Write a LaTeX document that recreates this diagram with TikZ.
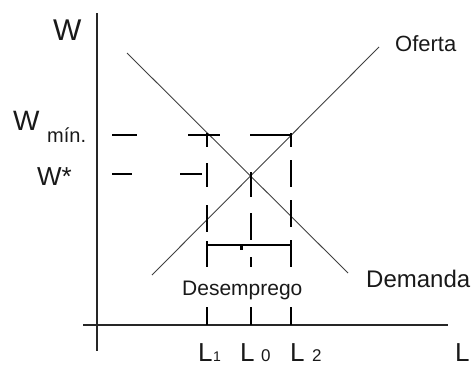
\documentclass[tikz,border=0pt]{standalone}
\usepackage{fontspec}
\setmainfont{Liberation Sans}
\tikzset{
  axisline/.style={draw=black!85, line width=1.6pt},
  curve/.style={draw=black!75, line width=0.9pt},
  dashpiece/.style={draw=black, line width=1.3pt},
  lbl/.style={anchor=base west, inner sep=0pt, text=black!90},
}
\newcommand{\fs}[1]{\fontsize{#1}{#1}\selectfont}
\begin{document}
\begin{tikzpicture}[x=1pt,y=-1pt]
\useasboundingbox (0,0) rectangle (476,367);
% axes
\coordinate (ytop) at (97,13);
\coordinate (ybot) at (97,351);
\coordinate (xl) at (83,325);
\coordinate (xr) at (448,325);
\draw[axisline] (ytop) -- (ybot);
\draw[axisline] (xl) -- (xr);
% curves
\coordinate (d1) at (127,53);
\coordinate (d2) at (348,273);
\coordinate (s1) at (152,275);
\coordinate (s2) at (379,47);
\draw[curve] (d1) -- (d2);
\draw[curve] (s1) -- (s2);
% horizontal dashes W_min
\draw[dashpiece] (112,135) -- (137,135);
\draw[dashpiece] (188,135) -- (220,135);
\draw[dashpiece] (250,135) -- (292,135);
% horizontal dashes W*
\draw[dashpiece] (112,174) -- (132,174);
\draw[dashpiece] (180,174) -- (202,174);
% vertical L1
\foreach \a/\b in {133/147,163/187,205/232,241/267,307/325}
  \draw[dashpiece] (207,\a) -- (207,\b);
% vertical L0
\foreach \a/\b in {172/197,213/240,257/267,307/325}
  \draw[dashpiece] (251,\a) -- (251,\b);
% vertical L2
\foreach \a/\b in {133/147,160/187,200/227,240/267,307/325}
  \draw[dashpiece] (291,\a) -- (291,\b);
% bracket
\draw[dashpiece] (207,245) -- (291,245);
\fill[black] (240,245) rectangle (243,250);
% labels
\node[lbl, font=\fs{30}] (W) at (53,40) {W};
\node[lbl, font=\fs{28}] (Wmin) at (13,130) {W};
\node[lbl, font=\fs{20}] (min) at (47,142) {mín.};
\node[lbl, font=\fs{26}] (Wstar) at (37,185) {W*};
\node[lbl, font=\fs{22}] (of) at (395,51) {Oferta};
\node[lbl, font=\fs{24}] (dem) at (366,287) {Demanda};
\node[lbl, font=\fs{21}] (des) at (182,295) {Desemprego};
\node[lbl, font=\fs{26}] (L1) at (198,361) {L};
\node[lbl, font=\fs{14}] (L1s) at (213,361) {1};
\node[lbl, font=\fs{26}] (L0) at (240,361) {L};
\node[lbl, font=\fs{17}] (L0s) at (261,361) {0};
\node[lbl, font=\fs{26}] (L2) at (290,361) {L};
\node[lbl, font=\fs{17}] (L2s) at (312,361) {2};
\node[lbl, font=\fs{26}] (L) at (455,361) {L};
\end{tikzpicture}
\end{document}
